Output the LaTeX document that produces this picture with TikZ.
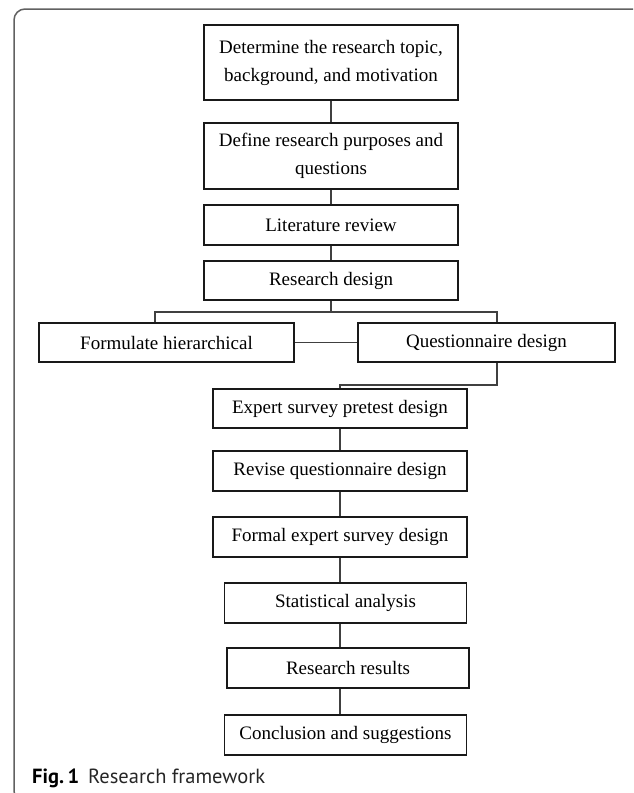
\documentclass[tikz,border=0pt]{standalone}
\usepackage{fontspec}
\setmainfont{Liberation Serif}
\newfontfamily\capfont{PT Sans}
\begin{document}
\begin{tikzpicture}[x=1pt,y=-1pt,
  box/.style={draw=black!90, line width=1.2pt, inner sep=0pt, align=center,
    font=\fontsize{19}{28}\selectfont, minimum width=254pt, minimum height=40pt},
  conn/.style={draw=black!75, line width=1.2pt},
  frame/.style={draw=black!62, line width=1.5pt, rounded corners=11pt}]
\useasboundingbox (0,0) rectangle (633,793);
\begin{scope}
  \clip (0,0) rectangle (633,793);
  \draw[frame] (645,9) -- (14,9) -- (14,802) -- (645,802);
\end{scope}
% boxes
\node[box, minimum height=75pt] (b1) at (331,62.5) {Determine the research topic,\\background, and motivation};
\node[box, minimum height=66pt] (b2) at (331,156) {Define research purposes and\\questions};
\node[box] (lr) at (331,225) {Literature review};
\node[box, minimum height=39pt] (rd) at (331,280.5) {Research design};
\node[box, minimum width=255pt, minimum height=39pt] (fh) at (166.5,342.5) {Formulate hierarchical};
\node[box, minimum width=257pt, minimum height=39pt] (qd) at (486.5,342.5) {Questionnaire design};
\node[box, minimum height=39pt] (es) at (340,408.5) {Expert survey pretest design};
\node[box] (rv) at (340,471) {Revise questionnaire design};
\node[box] (fe) at (340,537) {Formal expert survey design};
\node[box, minimum width=242pt] (sa) at (345.5,603) {Statistical analysis};
\node[box, minimum width=242pt] (rr) at (348,668) {Research results};
\node[box, minimum width=242pt] (cs) at (345.5,735) {Conclusion and suggestions};
% connectors
\coordinate (bl) at (155,312);
\coordinate (br) at (497,312);
\coordinate (qb) at (497,385);
\draw[conn] (b1.south) -- (b2.north);
\draw[conn] (b2.south) -- (lr.north);
\draw[conn] (lr.south) -- (rd.north);
\draw[conn] (rd.south) -- (rd.south |- bl);
\draw[conn] (bl |- fh.north) -- (bl) -- (br) -- (br |- qd.north);
\draw[conn] (fh.east) -- (qd.west);
\draw[conn] (qd.south -| qb) -- (qb) -- (qb -| es.north) -- (es.north);
\draw[conn] (es.south) -- (rv.north);
\draw[conn] (rv.south) -- (fe.north);
\draw[conn] (fe.south) -- (fe.south |- sa.north);
\draw[conn] (sa.south -| fe.south) -- (rr.north -| fe.south);
\draw[conn] (rr.south -| fe.south) -- (cs.north -| fe.south);
% caption
\node[anchor=base west, inner sep=0pt, font=\capfont\fontsize{20.5}{20.5}\selectfont] (cap) at (32,783)
  {\textbf{Fig.\,1}\hspace{9pt}\color{black!85}Research framework};
\end{tikzpicture}
\end{document}
